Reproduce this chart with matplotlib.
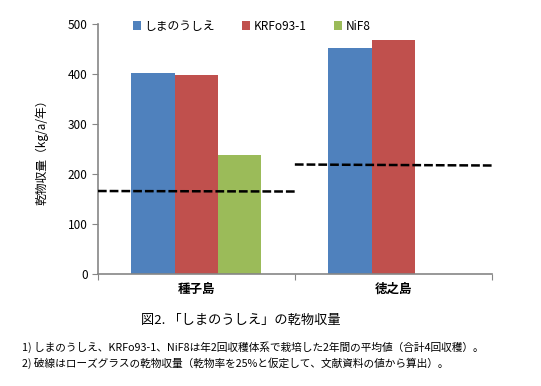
import numpy as np
import matplotlib
matplotlib.use('Agg')
import matplotlib.pyplot as plt

plt.rcParams['font.family'] = ['Noto Sans CJK JP', 'DejaVu Sans']

# data
sites = ['種子島', '徳之島']
series = ['しまのうしえ', 'KRFo93-1', 'NiF8']
shima = [402, 452]
krfo = [397, 467]
nif8 = [238, 0]
rose_left = [166, 219]   # ローズグラス dashed line, left end
rose_right = [165, 217]  # right end
colors = ['#4F81BD', '#C0504D', '#9BBB59']

fig = plt.figure(figsize=(5.41, 3.86), dpi=100)
ax = fig.add_axes([0.181, 0.290, 0.728, 0.648])

x = np.arange(len(sites))
w = 0.22
for i, (vals, name) in enumerate(zip([shima, krfo, nif8], series)):
    ax.bar(x + (i - 1) * w, vals, width=w, color=colors[i], label=name, zorder=2)

for i in range(len(sites)):
    ax.plot([i - 0.5, i + 0.5], [rose_left[i], rose_right[i]], color='black',
            linestyle=(0, (3.5, 1.2)), linewidth=1.8, zorder=3)

ax.set_xlim(-0.5, 1.5)
ax.set_ylim(0, 500)
ax.set_yticks(range(0, 501, 100))
ax.set_xticks([-0.5, 0.5, 1.5])
ax.set_xticklabels([])
for i, s in enumerate(sites):
    ax.text(i, -30, s, ha='center', va='center', fontsize=9, fontweight='bold')

for sp in ['top', 'right']:
    ax.spines[sp].set_visible(False)
for sp in ['left', 'bottom']:
    ax.spines[sp].set_color('#868686')
    ax.spines[sp].set_linewidth(1.2)
ax.tick_params(axis='both', colors='#868686', labelcolor='black', labelsize=8.5, length=4)

ax.set_ylabel('乾物収量（kg/a/年）', fontsize=8.5, labelpad=14)

ax.legend(loc='upper center', bbox_to_anchor=(0.39, 1.06), ncol=3, frameon=False,
          fontsize=8.5, handlelength=0.7, handleheight=0.7, handletextpad=0.3,
          columnspacing=2.3)

fig.text(0.445, 0.170, '図2. 「しまのうしえ」の乾物収量', ha='center', va='center', fontsize=9.5)
fig.text(0.04, 0.100, '1) しまのうしえ、KRFo93-1、NiF8は年2回収穫体系で栽培した2年間の平均値（合計4回収穫）。',
         ha='left', va='center', fontsize=7.7)
fig.text(0.04, 0.060, '2) 破線はローズグラスの乾物収量（乾物率を25%と仮定して、文献資料の値から算出）。',
         ha='left', va='center', fontsize=7.7)

fig.savefig('out.png', dpi=100)
